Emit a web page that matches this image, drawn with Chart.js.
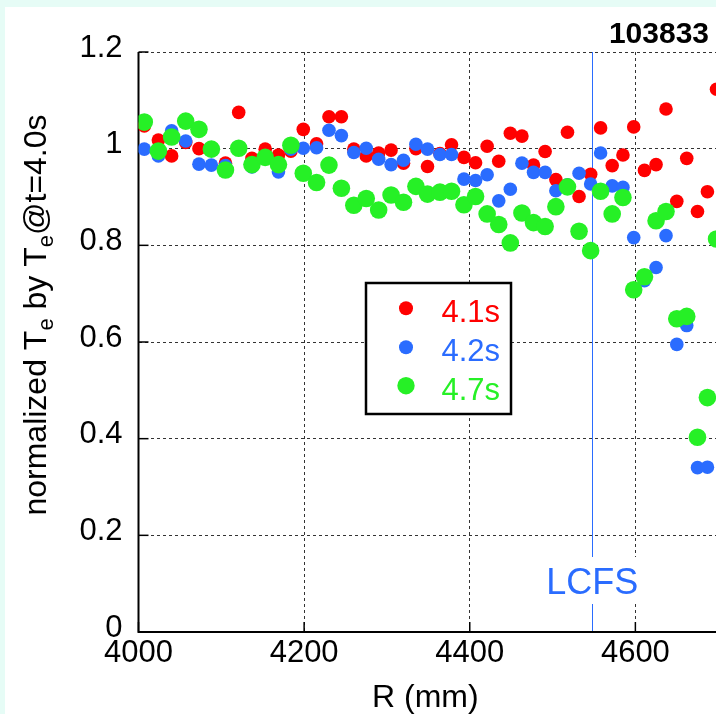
<!DOCTYPE html>
<html lang="en">
<head>
    <meta charset="UTF-8">
    <title>103833 - normalized Te</title>
    <script src="https://cdn.jsdelivr.net/npm/chart.js"></script>
    <style>
        html, body { margin: 0; padding: 0; overflow: hidden; background: #e6fcf6; }
        #teChart { position: absolute; left: 0; top: 0; }
    </style>
</head>
<body>
    <canvas id="teChart" width="860" height="714"></canvas>

    <script>
        // R positions (mm), shared by all three time slices
        const radius = [4007, 4024, 4040, 4057, 4073, 4088, 4105, 4121, 4137, 4153,
                        4169, 4184, 4199, 4215, 4230, 4245, 4260, 4275, 4290, 4305,
                        4320, 4335, 4349, 4364, 4378, 4393, 4407, 4421, 4435, 4449,
                        4463, 4477, 4491, 4504, 4518, 4532, 4546, 4558, 4572, 4585,
                        4598, 4611, 4625, 4637, 4650, 4662, 4675, 4687, 4698];

        const te41 = [1.047, 1.018, 0.985, 1.013, 1.000, 0.998, 0.970, 1.075, 0.980, 0.999,
                      0.987, 0.995, 1.040, 1.010, 1.066, 1.066, 0.999, 0.985, 0.991, 0.997,
                      0.970, 1.000, 0.963, 0.990, 1.008, 0.982, 0.971, 1.005, 0.974, 1.032,
                      1.026, 0.966, 0.994, 0.936, 1.034, 0.901, 0.947, 1.043, 0.965, 0.987,
                      1.045, 0.955, 0.967, 1.082, 0.891, 0.980, 0.870, 0.911, 1.123];

        const te42 = [0.999, 0.985, 1.037, 1.016, 0.968, 0.966, 0.965, 1.000, 0.962, 0.980,
                      0.952, 0.999, 1.001, 1.002, 1.038, 1.027, 0.992, 1.001, 0.978, 0.967,
                      0.976, 1.009, 0.999, 0.988, 0.988, 0.937, 0.934, 0.946, 0.892, 0.916,
                      0.970, 0.951, 0.951, 0.913, 0.925, 0.949, 0.927, 0.991, 0.923, 0.920,
                      0.816, 0.727, 0.754, 0.820, 0.595, 0.634, 0.340, 0.341, null];

        const te47 = [1.055, 0.995, 1.024, 1.057, 1.040, 0.999, 0.956, 1.001, 0.967, 0.982,
                      0.967, 1.007, 0.949, 0.930, 0.966, 0.918, 0.883, 0.897, 0.873, 0.904,
                      0.889, 0.922, 0.906, 0.910, 0.912, 0.884, 0.901, 0.865, 0.843, 0.805,
                      0.867, 0.847, 0.839, 0.880, 0.921, 0.829, 0.789, 0.912, 0.865, 0.899,
                      0.708, 0.735, 0.851, 0.870, 0.648, 0.653, 0.403, 0.485, 0.813];

        const seriesLabels = ["4.1s", "4.2s", "4.7s"];
        const seriesColors = ["#ff0000", "#2a6cff", "#26f026"];
        const pointSizes = [6.8, 6.8, 8.8];

        const xTicks = [4000, 4200, 4400, 4600, 4800];
        const yTicks = [0, 0.2, 0.4, 0.6, 0.8, 1.0, 1.2];
        const lcfsR = 4548;
        const shotNumber = "103833";

        const FONT = "'Liberation Sans', Arial, sans-serif";

        function toPoints(values) {
            return radius.map((r, i) => ({ x: r, y: values[i] }));
        }

        const datasets = [te41, te42, te47].map((vals, i) => ({
            label: seriesLabels[i],
            data: toPoints(vals),
            backgroundColor: seriesColors[i],
            borderWidth: 0,
            pointRadius: pointSizes[i],
            order: 2 - i   // green on top, red underneath
        }));

        const decor = {
            id: "decor",
            beforeDraw(chart) {
                const ctx = chart.ctx;
                ctx.save();
                ctx.fillStyle = "#e6fcf6";
                ctx.fillRect(0, 0, chart.width, chart.height);
                ctx.fillStyle = "#ffffff";
                ctx.fillRect(5, 7, chart.width, chart.height);
                ctx.restore();
            },
            beforeDatasetsDraw(chart) {
                const ctx = chart.ctx;
                const a = chart.chartArea;
                const xs = chart.scales.x, ys = chart.scales.y;
                ctx.save();

                // LCFS line
                const lx = Math.round(xs.getPixelForValue(lcfsR)) + 0.5;
                ctx.strokeStyle = seriesColors[1];
                ctx.lineWidth = 1;
                ctx.beginPath();
                ctx.moveTo(lx, a.top);
                ctx.lineTo(lx, a.bottom);
                ctx.stroke();

                // inward tick marks
                ctx.strokeStyle = "#000";
                ctx.lineWidth = 1.5;
                yTicks.forEach(v => {
                    const py = ys.getPixelForValue(v);
                    ctx.beginPath();
                    ctx.moveTo(a.left, py);
                    ctx.lineTo(a.left + 10, py);
                    ctx.stroke();
                });
                xTicks.forEach(v => {
                    const px = xs.getPixelForValue(v);
                    ctx.beginPath();
                    ctx.moveTo(px, a.bottom);
                    ctx.lineTo(px, a.bottom - 10);
                    ctx.stroke();
                });

                // frame: left and bottom solid
                ctx.lineWidth = 2;
                ctx.beginPath();
                ctx.moveTo(a.left, a.top);
                ctx.lineTo(a.left, a.bottom);
                ctx.lineTo(a.right, a.bottom);
                ctx.stroke();
                ctx.restore();
            },
            afterDraw(chart) {
                const ctx = chart.ctx;
                const xs = chart.scales.x;
                ctx.save();

                // LCFS label over the line
                const lx = xs.getPixelForValue(lcfsR);
                ctx.font = "36px " + FONT;
                const lw = ctx.measureText("LCFS").width;
                ctx.fillStyle = "#fff";
                ctx.fillRect(lx - lw / 2 - 2, 557, lw + 4, 47);
                ctx.fillStyle = seriesColors[1];
                ctx.textAlign = "center";
                ctx.textBaseline = "alphabetic";
                ctx.fillText("LCFS", lx, 594);

                // legend box
                ctx.fillStyle = "#fff";
                ctx.fillRect(366, 283, 145, 131);
                ctx.strokeStyle = "#000";
                ctx.lineWidth = 2.5;
                ctx.strokeRect(366, 283, 145, 131);
                const rowY = [308.3, 347.3, 385.7];
                ctx.font = "31px " + FONT;
                ctx.textAlign = "right";
                seriesLabels.forEach((lab, i) => {
                    ctx.fillStyle = seriesColors[i];
                    ctx.beginPath();
                    ctx.arc(406, rowY[i], i === 2 ? 8.7 : 7, 0, Math.PI * 2);
                    ctx.fill();
                    ctx.fillText(lab, 500, rowY[i] + 14);
                });

                // shot number
                ctx.fillStyle = "#000";
                ctx.font = "bold 30px " + FONT;
                ctx.textAlign = "right";
                ctx.fillText(shotNumber, 709, 43);

                // x axis title
                ctx.font = "32px " + FONT;
                ctx.textAlign = "left";
                ctx.fillText("R (mm)", 372, 707);

                // y axis title with subscripts
                const parts = [
                    { t: "normalized T", sub: false },
                    { t: "e", sub: true },
                    { t: " by T", sub: false },
                    { t: "e", sub: true },
                    { t: "@t=4.0s", sub: false }
                ];
                const bigFont = "32px " + FONT, smallFont = "22px " + FONT;
                let total = 0;
                parts.forEach(p => {
                    ctx.font = p.sub ? smallFont : bigFont;
                    p.w = ctx.measureText(p.t).width;
                    total += p.w;
                });
                ctx.translate(46, 315);
                ctx.rotate(-Math.PI / 2);
                let cx = -total / 2;
                ctx.textAlign = "left";
                parts.forEach(p => {
                    ctx.font = p.sub ? smallFont : bigFont;
                    ctx.fillText(p.t, cx, p.sub ? 7 : 0);
                    cx += p.w;
                });
                ctx.restore();
            }
        };

        const tickFont = { family: FONT, size: 31 };

        new Chart(document.getElementById("teChart"), {
            type: "scatter",
            data: { datasets: datasets },
            options: {
                responsive: false,
                animation: false,
                devicePixelRatio: 1,
                layout: { padding: { top: 52, right: 59, left: 0, bottom: 0 } },
                plugins: { legend: { display: false }, tooltip: { enabled: false } },
                scales: {
                    x: {
                        type: "linear",
                        min: xTicks[0],
                        max: xTicks[xTicks.length - 1],
                        afterFit: s => { s.height = 82; },
                        afterBuildTicks: s => { s.ticks = xTicks.map(v => ({ value: v })); },
                        ticks: { font: tickFont, color: "#000", padding: 3, maxRotation: 0,
                                 callback: v => String(v) },
                        grid: { color: "#333", lineWidth: 1, drawTicks: false },
                        border: { display: false, dash: [3, 3] }
                    },
                    y: {
                        min: yTicks[0],
                        max: yTicks[yTicks.length - 1],
                        afterFit: s => { s.width = 138.5; },
                        afterBuildTicks: s => { s.ticks = yTicks.map(v => ({ value: v })); },
                        ticks: { font: tickFont, color: "#000", padding: 16, labelOffset: -4,
                                 callback: v => String(Math.round(v * 10) / 10) },
                        grid: { color: "#333", lineWidth: 1, drawTicks: false },
                        border: { display: false, dash: [3, 3] }
                    }
                }
            },
            plugins: [decor]
        });
    </script>
</body>
</html>
